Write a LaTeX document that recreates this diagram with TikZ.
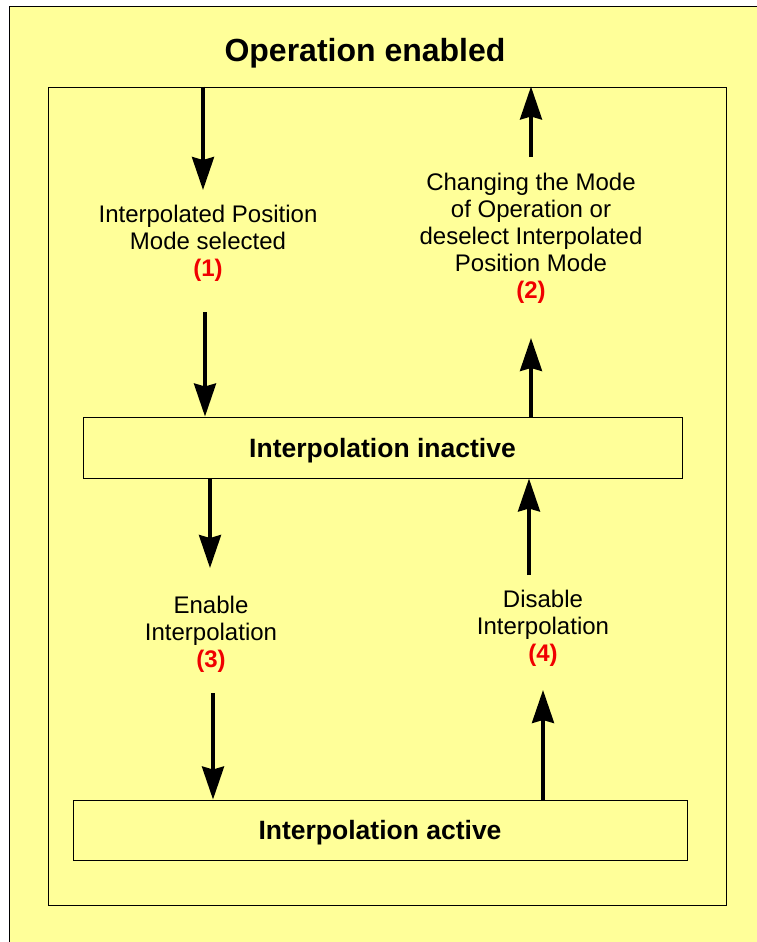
\documentclass[tikz,border=0pt]{standalone}
\usepackage{fontspec}
\setmainfont{Liberation Sans}
\usetikzlibrary{arrows.meta}

\definecolor{paleyellow}{RGB}{255,255,153}
\definecolor{numred}{RGB}{240,0,0}

\tikzset{
  statebox/.style={draw=black, line width=1pt, fill=paleyellow, inner sep=0pt,
    text depth=0pt, font=\fontsize{26.5}{30}\selectfont\bfseries},
  translabel/.style={align=center, inner sep=0pt,
    font=\fontsize{24}{27}\selectfont},
  flow/.style={line width=3.5pt, -{Stealth[length=33pt,width=22pt,inset=3pt]}}
}
\newcommand{\stepnum}[1]{\textcolor{numred}{\textbf{(#1)}}}

\begin{document}
\begin{tikzpicture}[x=1pt,y=-1pt]
	\useasboundingbox (0,0) rectangle (757,942);

	% Rahmen aussen
	\draw[line width=1pt, fill=paleyellow] (9,7) rectangle (780,980);
	\node[font=\fontsize{32}{38}\selectfont\bfseries] (title) at (365,53) {Operation enabled};

	% Rahmen innen
	\node[draw, line width=1pt, minimum width=678pt, minimum height=818pt, inner sep=0pt] (frame) at (387,496) {};

	% Zustaende
	\node[statebox, minimum width=599pt, minimum height=61pt] (inact) at (382.5,447.5) {Interpolation inactive};
	\node[statebox, minimum width=614pt, minimum height=60pt] (act) at (380,830) {Interpolation active};

	% Uebergaenge
	\node[translabel] (lab1) at (208,243) {Interpolated Position\\Mode selected\\\stepnum{1}};
	\node[translabel] (lab2) at (531,238) {Changing the Mode\\of Operation or\\deselect Interpolated\\Position Mode\\\stepnum{2}};
	\node[translabel] (lab3) at (211,634) {Enable\\Interpolation\\\stepnum{3}};
	\node[translabel] (lab4) at (543,628) {Disable\\Interpolation\\\stepnum{4}};

	% Pfeile
	\coordinate (a1) at (203,190);
	\coordinate (a2) at (205,312);
	\coordinate (a3) at (531,157);
	\coordinate (a4) at (531,338);
	\coordinate (a5) at (210,568);
	\coordinate (a6) at (213,693);
	\coordinate (a7) at (529,575);
	\coordinate (a8) at (543,690);

	\draw[flow] (a1 |- frame.north) -- (a1);
	\draw[flow] (a2) -- (a2 |- inact.north);
	\draw[flow] (a3) -- (a3 |- frame.north);
	\draw[flow] (a4 |- inact.north) -- (a4);
	\draw[flow] (a5 |- inact.south) -- (a5);
	\draw[flow] (a6) -- (a6 |- act.north);
	\draw[flow] (a7) -- (a7 |- inact.south);
	\draw[flow] (a8 |- act.north) -- (a8);

\end{tikzpicture}
\end{document}
